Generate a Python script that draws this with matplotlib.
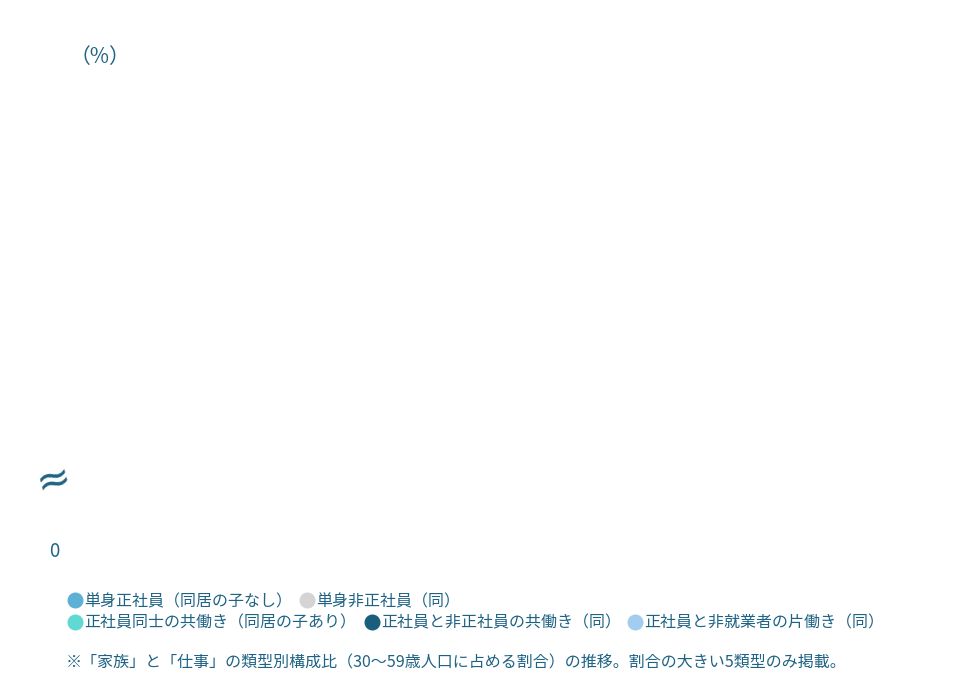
import matplotlib
matplotlib.use("Agg")
import matplotlib.pyplot as plt
from matplotlib.lines import Line2D

plt.rcParams['font.family'] = ['Noto Sans CJK JP', 'DejaVu Sans']

# legend categories (chart itself has not drawn any series yet)
categories = [
    "単身正社員（同居の子なし）",
    "単身非正社員（同）",
    "正社員同士の共働き（同居の子あり）",
    "正社員と非正社員の共働き（同）",
    "正社員と非就業者の片働き（同）",
]
colors = ["#5eb1d6", "#d4d4d4", "#5fd9d1", "#1a5e7e", "#a3cdf0"]
legend_rows = [[0, 1], [2, 3, 4]]
legend_x = [[75, 307], [75, 372, 635]]
y_ticks = [0]
y_tick_labels = ["0"]
note = "※「家族」と「仕事」の類型別構成比（30〜59歳人口に占める割合）の推移。割合の大きい5類型のみ掲載。"

text_color = "#1f6384"
W, H = 960, 680

fig = plt.figure(figsize=(9.6, 6.8), dpi=100)
fig.patch.set_facecolor("white")

def fx(px):
    return px / W

def fy(py):
    return 1 - py / H

# empty plot area
ax = fig.add_axes([fx(80), fy(549), fx(860), fy(55) - fy(549)])
ax.set_ylim(0, 100)
ax.set_yticks(y_ticks)
ax.set_yticklabels(y_tick_labels, fontsize=13.5, color=text_color)
ax.set_xticks([])
ax.tick_params(axis="y", length=0, pad=15)
for s in ax.spines.values():
    s.set_visible(False)
ax.patch.set_alpha(0)

fig.text(fx(100), fy(57), "（%）", fontsize=15, color=text_color,
         ha="center", va="center")

# axis break mark
fig.text(fx(54), fy(480), "≈", fontsize=30, color=text_color,
         ha="center", va="center", rotation=15, family="DejaVu Sans")

# legend
for row, (idxs, xs) in enumerate(zip(legend_rows, legend_x)):
    y = fy(600 + row * 21.5)
    for i, x in zip(idxs, xs):
        fig.add_artist(Line2D([fx(x)], [y], transform=fig.transFigure,
                              marker="o", markersize=10.5, color=colors[i],
                              linestyle="none"))
        fig.text(fx(x + 9), y - 1.5 / H, categories[i], fontsize=11.5,
                 color=text_color, ha="left", va="center")

fig.text(fx(66), fy(663), note, fontsize=11.5, color=text_color,
         ha="left", va="center")

fig.savefig("out.png", dpi=100)
